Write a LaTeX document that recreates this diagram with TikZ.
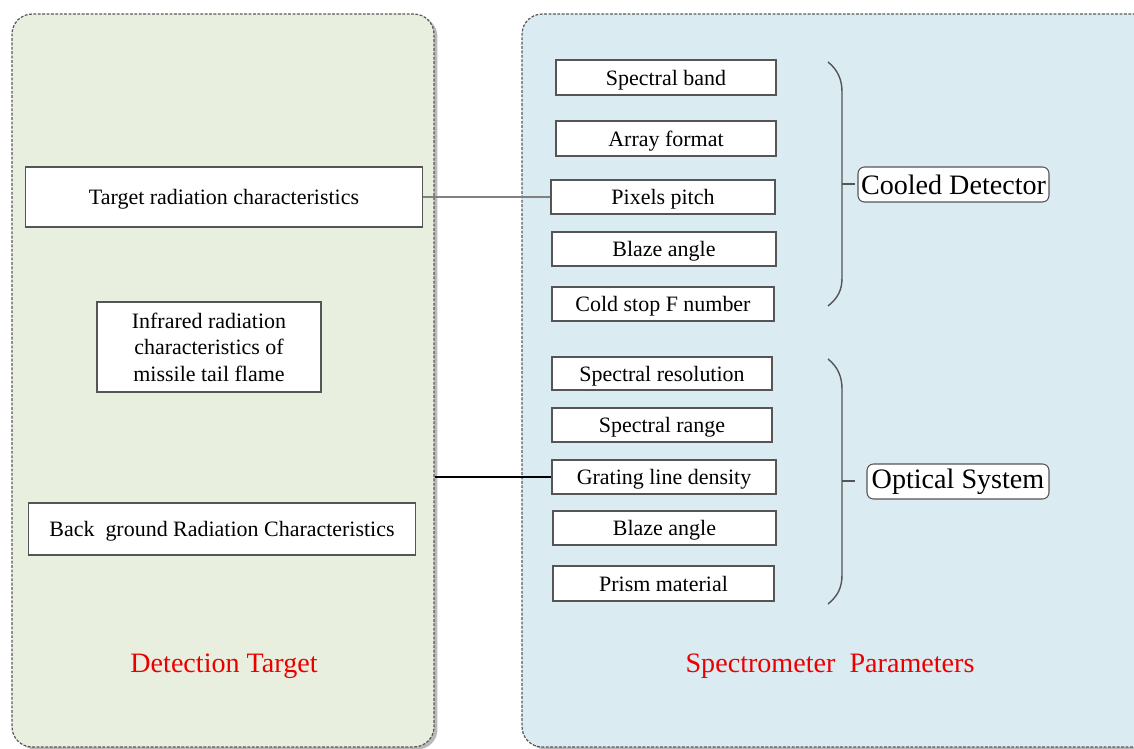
\documentclass[tikz,border=0pt]{standalone}
\usepackage{fontspec}
\setmainfont{Liberation Serif}
\usetikzlibrary{shadows,positioning}
\definecolor{targetgreen}{RGB}{232,239,223}
\definecolor{specblue}{RGB}{218,236,242}
\definecolor{boxgray}{RGB}{85,85,85}
\definecolor{labelred}{RGB}{235,0,0}

\begin{document}
\begin{tikzpicture}[x=0.02cm,y=-0.02cm,
    panel/.style={rectangle,rounded corners=0.4cm,draw=gray!70!black,dash pattern=on 1.6pt off 0.9pt,line width=0.7pt,
      drop shadow={shadow xshift=0.07cm,shadow yshift=-0.05cm,opacity=0.55}},
    itembox/.style={rectangle,draw=boxgray,fill=white,line width=0.6pt,inner sep=0pt,align=center,text depth=0pt,
      font=\fontsize{12.5}{15}\selectfont},
    groupbox/.style={rectangle,rounded corners=0.13cm,draw=boxgray,fill=white,line width=0.6pt,inner sep=0pt,
      minimum height=0.7cm,font=\fontsize{16}{19}\selectfont},
    titletext/.style={text=labelred,font=\fontsize{16}{19}\selectfont},
    bracket/.style={draw=boxgray,line width=0.8pt}]
    \useasboundingbox (0,0) rectangle (1134,749);

    % Pannelli
    \node[panel,fill=targetgreen,minimum width=8.44cm,minimum height=14.66cm] (tgtpanel) at (223,380.5) {};
    \node[panel,fill=specblue,minimum width=12.76cm,minimum height=14.66cm] (specpanel) at (841,380.5) {};

    % Detection target
    \node[itembox,minimum width=7.96cm,minimum height=1.2cm] (tradbox) at (224,197) {Target radiation characteristics};
    \node[itembox,minimum width=4.48cm,minimum height=1.8cm] (flame) at (209,347) {Infrared radiation\\characteristics of\\missile tail flame};
    \node[itembox,minimum width=7.76cm,minimum height=1.04cm] (bground) at (222,529) {Back\ \ ground Radiation Characteristics};
    \node[titletext] (tgtlabel) at (224,666) {Detection Target};

    % Cooled detector
    \node[itembox,minimum width=4.4cm,minimum height=0.7cm] (band) at (666,77.5) {Spectral band};
    \node[itembox,minimum width=4.4cm,minimum height=0.7cm] (array) at (666,138.5) {Array format};
    \node[itembox,minimum width=4.48cm,minimum height=0.68cm] (pitch) at (663,197) {Pixels pitch};
    \node[itembox,minimum width=4.48cm,minimum height=0.68cm] (blazeA) at (664,249) {Blaze angle};
    \node[itembox,minimum width=4.44cm,minimum height=0.68cm] (coldstop) at (663,304) {Cold stop F number};

    % Optical system
    \node[itembox,minimum width=4.4cm,minimum height=0.66cm] (resol) at (662,373.5) {Spectral resolution};
    \node[itembox,minimum width=4.4cm,minimum height=0.68cm] (range) at (662,425) {Spectral range};
    \node[itembox,minimum width=4.48cm,minimum height=0.68cm] (grating) at (664,477) {Grating line density};
    \node[itembox,minimum width=4.46cm,minimum height=0.68cm] (blazeB) at (664.5,528) {Blaze angle};
    \node[itembox,minimum width=4.42cm,minimum height=0.7cm] (prism) at (663.5,583.5) {Prism material};
    \node[titletext] (speclabel) at (830,666) {Spectrometer\ \ Parameters};

    % Parentesi
    \draw[bracket] (828,62) .. controls (838,70) and (842,80) .. (842,92) -- (842,278) .. controls (842,290) and (838,298) .. (828,306);
    \draw[bracket] (842,184) -- (855,184);
    \node[groupbox,minimum width=3.82cm] (cooled) at (953.5,184.5) {Cooled Detector};

    \draw[bracket] (828,359) .. controls (838,367) and (842,377) .. (842,389) -- (842,575) .. controls (842,587) and (838,596) .. (828,604);
    \draw[bracket] (842,481) -- (855,481);
    \node[groupbox,minimum width=3.64cm] (optical) at (958,481.5) {Optical System};

    % Connessioni
    \coordinate (gstart) at (tgtpanel.east |- grating.west);
    \draw[gray,line width=0.7pt] (tradbox.east) -- (pitch.west);
    \draw[black,line width=0.7pt] (gstart) -- (grating.west);
\end{tikzpicture}
\end{document}
